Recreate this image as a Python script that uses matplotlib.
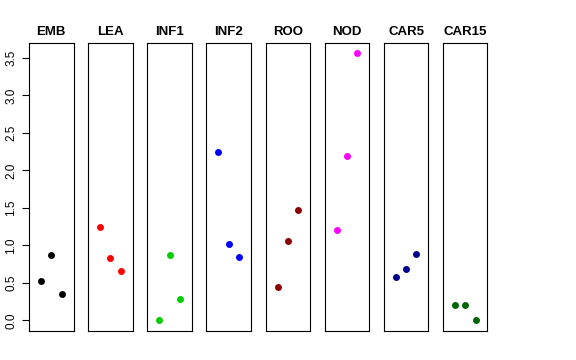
import matplotlib
matplotlib.use("Agg")
import matplotlib.pyplot as plt
import numpy as np

plt.rcParams['font.family'] = ['Liberation Sans', 'DejaVu Sans']

tissues = ["EMB", "LEA", "INF1", "INF2", "ROO", "NOD", "CAR5", "CAR15"]
emb = [0.52, 0.87, 0.35]
lea = [1.25, 0.83, 0.66]
inf1 = [0.00, 0.87, 0.28]
inf2 = [2.24, 1.02, 0.84]
roo = [0.45, 1.06, 1.47]
nod = [1.21, 2.19, 3.56]
car5 = [0.58, 0.69, 0.88]
car15 = [0.20, 0.20, 0.00]
series = [emb, lea, inf1, inf2, roo, nod, car5, car15]
colors = ["#000000", "#FF0000", "#00CD00", "#0000FF", "#8B0000", "#FF00FF", "#00008B", "#006400"]
yticks = [0.0, 0.5, 1.0, 1.5, 2.0, 2.5, 3.0, 3.5]
ytick_labels = ["0.0", "0.5", "1.0", "1.5", "2.0", "2.5", "3.0", "3.5"]

W, H = 576, 360
fig = plt.figure(figsize=(W / 100, H / 100), dpi=100)

ymin, ymax = -0.142, 3.70
left0 = 29.0
step = 59.14
pw = 44.5
bottom = 331.0
top = 43.0

for i, (name, vals, col) in enumerate(zip(tissues, series, colors)):
    ax = fig.add_axes([(left0 + i * step) / W, 1 - bottom / H, pw / W, (bottom - top) / H])
    x = np.arange(1, len(vals) + 1)
    ax.plot(x, vals, 'o', color=col, ms=5, mew=0)
    ax.set_xlim(-0.16, 4.16)
    ax.set_ylim(ymin, ymax)
    ax.set_xticks([])
    for sp in ax.spines.values():
        sp.set_linewidth(0.8)
        sp.set_color("#000000")
    ax.set_title(name, fontweight='bold', fontsize=9.5, pad=6)
    if i == 0:
        ax.set_yticks(yticks)
        ax.set_yticklabels(ytick_labels, rotation=90, va='center', fontsize=8.5)
        ax.tick_params(axis='y', length=5, width=0.8, pad=3.5)
    else:
        ax.set_yticks([])

fig.savefig("out.png", dpi=100)
